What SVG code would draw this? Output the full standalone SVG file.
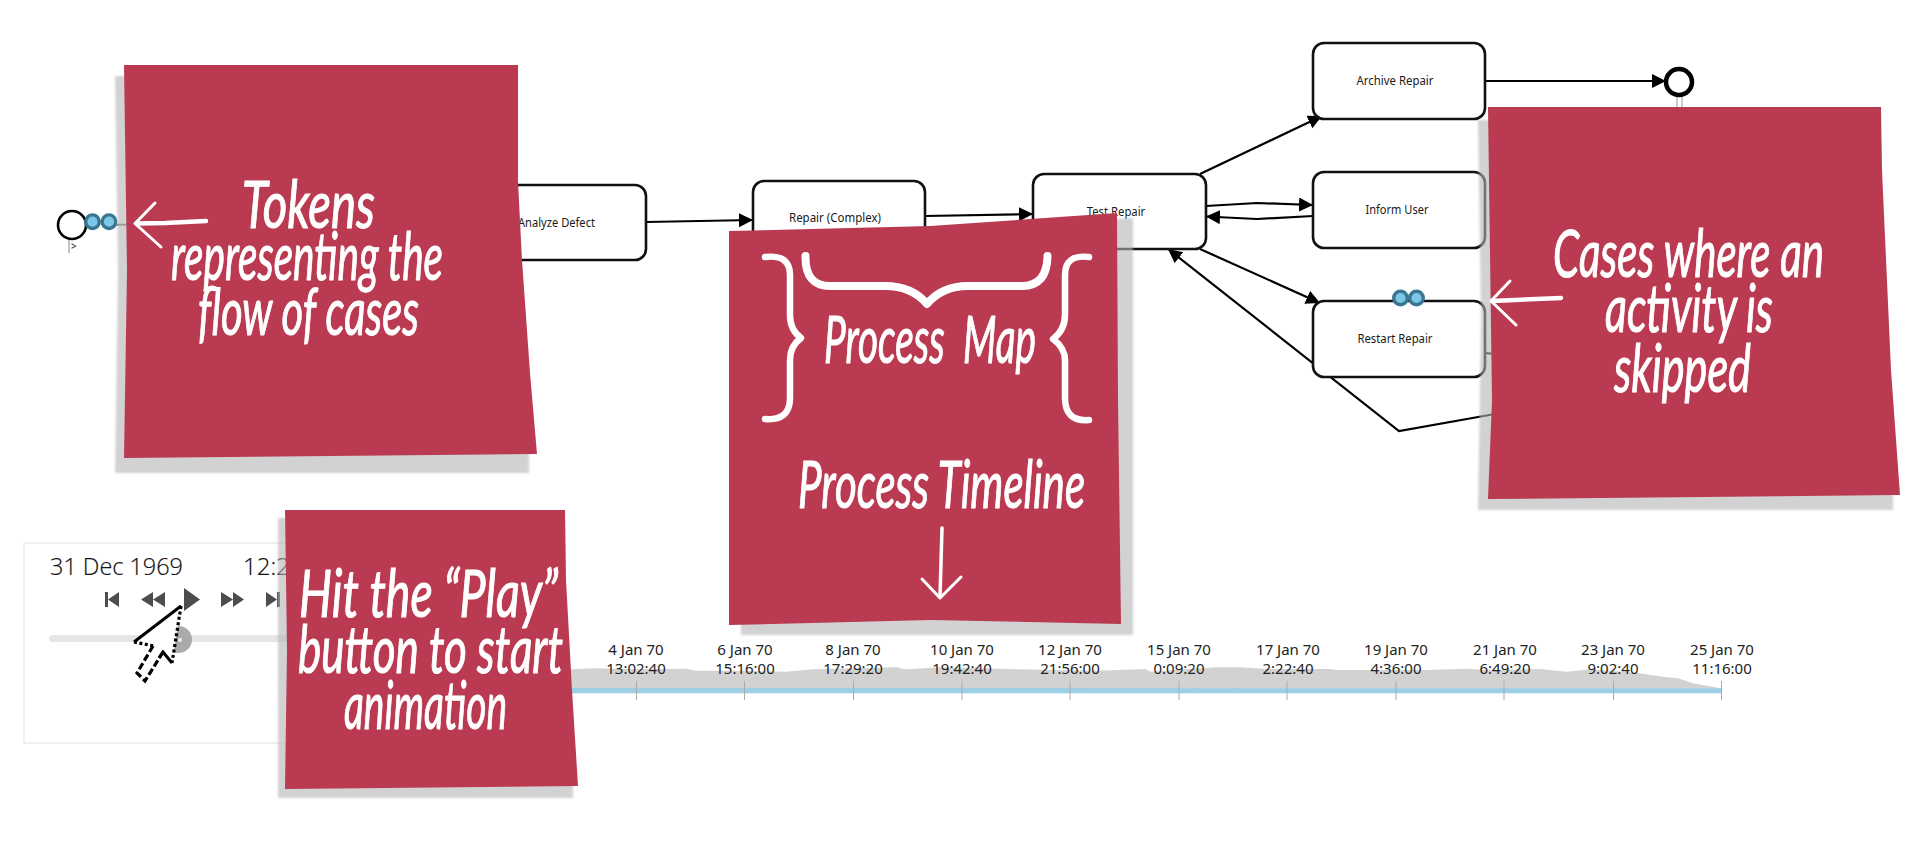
<svg xmlns="http://www.w3.org/2000/svg" width="1920" height="859" viewBox="0 0 1920 859">
<style>
.task{fill:#fff;stroke:#111;stroke-width:2.6}
.lbl{font-family:"Noto Sans",sans-serif;font-size:12px;fill:#1a1a1a;text-anchor:middle}
.cn{fill:none;stroke:#000;stroke-width:2.2}
.tk{fill:#7cc6e8;stroke:#3a7690;stroke-width:3.4}
.note{fill:#ba3a51}
.shadow{fill:#b4b4b4;fill-opacity:.6;filter:url(#soft)}
.hand{font-family:Lato,"Liberation Sans",sans-serif;font-style:italic;fill:#fff;stroke:#fff;stroke-width:1.1;font-size:66px}
.ink{fill:none;stroke:#fff;stroke-linecap:round;stroke-linejoin:round}
.tl{font-family:"Noto Sans",sans-serif;font-size:15px;fill:#222;text-anchor:middle}
.tick{stroke:#aaa;stroke-width:1}
.btn{fill:#4d4d4d}
</style>
<defs>
<marker id="ah" markerUnits="userSpaceOnUse" markerWidth="16" markerHeight="16" refX="14" refY="7" orient="auto"><path d="M0 0L14 7L0 14Z" fill="#000"/></marker>
<filter id="soft" x="-5%" y="-5%" width="110%" height="110%"><feGaussianBlur stdDeviation="1"/></filter>
</defs>
<rect width="1920" height="859" fill="#fff"/>

<g id="timeline-panel">
<rect x="24" y="543" width="420" height="200" fill="#fff" stroke="#ececec" stroke-width="1.500"/>
<text x="50" y="575" font-family="Open Sans,sans-serif" font-size="24" font-weight="300" fill="#111" stroke="#111" stroke-width=".2" textLength="133" lengthAdjust="spacingAndGlyphs">31 Dec 1969</text>
<text x="243" y="575" font-family="Open Sans,sans-serif" font-size="24" font-weight="300" fill="#111" stroke="#111" stroke-width=".2">12:2</text>
<path class="btn" d="M105 592h3v15h-3zM119 592v15l-11-7.500z"/>
<path class="btn" d="M153 592v15l-12-7.500zM165 592v15l-12-7.500z"/>
<path class="btn" d="M184 588l16 11.500-16 11.500z"/>
<path class="btn" d="M221 592l12 7.500-12 7.500zM233 592l11 7.500-11 7.500z"/>
<path class="btn" d="M266 592l11 7.500-11 7.500zM277 592h3v15h-3z"/>
<rect x="49" y="635" width="300" height="7" rx="3.500" fill="#e6e6e6"/>
<circle cx="178.500" cy="639.500" r="13.500" fill="#aaa"/>
<circle cx="180" cy="640" r="2" fill="#eee"/>
</g>

<g id="timeline">
<rect x="530" y="688" width="1192" height="5.300" fill="#9dcfe6"/>
<path d="M530 688V669L571.500 669.300L594 668.300L636.500 669.300L686 668.700L696 670.700L744 670.700L786 671.700L813 669.300L897 667.300L904 669.300L943 667.300L1019 669.300L1096 670.700L1145.600 669L1150 671.700L1215 667.300L1242 667.300L1265 669L1330 669L1337.500 670L1425.500 670L1468 668.700L1487 670L1540 669L1567 671.700L1590 669.300L1636 672.700L1663 676.700L1678 678.300L1693 683.300L1721 688.300Z" fill="#d2d2d2"/>
<g>
<line class="tick" x1="636.500" y1="681" x2="636.500" y2="700"/><line class="tick" x1="744.500" y1="681" x2="744.500" y2="700"/><line class="tick" x1="853.500" y1="681" x2="853.500" y2="700"/><line class="tick" x1="962" y1="681" x2="962" y2="700"/><line class="tick" x1="1070" y1="681" x2="1070" y2="700"/><line class="tick" x1="1179" y1="681" x2="1179" y2="700"/><line class="tick" x1="1287" y1="681" x2="1287" y2="700"/><line class="tick" x1="1396" y1="681" x2="1396" y2="700"/><line class="tick" x1="1504" y1="681" x2="1504" y2="700"/><line class="tick" x1="1613.500" y1="681" x2="1613.500" y2="700"/><line class="tick" x1="1721.500" y1="681" x2="1721.500" y2="700"/>
</g>
<text class="tl" x="636" y="655">4 Jan 70</text><text class="tl" x="636" y="674">13:02:40</text>
<text class="tl" x="745" y="655">6 Jan 70</text><text class="tl" x="745" y="674">15:16:00</text>
<text class="tl" x="853" y="655">8 Jan 70</text><text class="tl" x="853" y="674">17:29:20</text>
<text class="tl" x="962" y="655">10 Jan 70</text><text class="tl" x="962" y="674">19:42:40</text>
<text class="tl" x="1070" y="655">12 Jan 70</text><text class="tl" x="1070" y="674">21:56:00</text>
<text class="tl" x="1179" y="655">15 Jan 70</text><text class="tl" x="1179" y="674">0:09:20</text>
<text class="tl" x="1288" y="655">17 Jan 70</text><text class="tl" x="1288" y="674">2:22:40</text>
<text class="tl" x="1396" y="655">19 Jan 70</text><text class="tl" x="1396" y="674">4:36:00</text>
<text class="tl" x="1505" y="655">21 Jan 70</text><text class="tl" x="1505" y="674">6:49:20</text>
<text class="tl" x="1613" y="655">23 Jan 70</text><text class="tl" x="1613" y="674">9:02:40</text>
<text class="tl" x="1722" y="655">25 Jan 70</text><text class="tl" x="1722" y="674">11:16:00</text>
</g>

<g id="connectors">
<line x1="116" y1="224.700" x2="130" y2="224.700" stroke="#777" stroke-width="2"/>
<path class="cn" d="M646 222L753 220" marker-end="url(#ah)"/>
<path class="cn" d="M925 216L1033 214" marker-end="url(#ah)"/>
<path class="cn" d="M1200 174L1322 116" marker-end="url(#ah)"/>
<path class="cn" d="M1206 206L1257 203L1313 205" marker-end="url(#ah)"/>
<path class="cn" d="M1313 216L1257 219L1206 216.500" marker-end="url(#ah)"/>
<path class="cn" d="M1200 249L1320 303" marker-end="url(#ah)"/>
<path class="cn" d="M1495 414L1399 431L1168 249" marker-end="url(#ah)"/>
<path class="cn" d="M1485 353L1495 354"/>
<path class="cn" d="M1485 81L1666 81" marker-end="url(#ah)"/>
<path d="M1677 96V112M1682 96V112" fill="none" stroke="#aaa" stroke-width="1.200"/>
</g>

<g id="start-event">
<circle cx="72" cy="225" r="14" fill="#fff" stroke="#000" stroke-width="2.600"/>
<line x1="69" y1="240" x2="69" y2="253" stroke="#888" stroke-width="1"/>
<text x="71" y="250" font-family="Noto Sans,sans-serif" font-size="10" fill="#222">&gt;</text>
<circle class="tk" cx="92.500" cy="221.700" r="6.800"/><circle class="tk" cx="109" cy="221.700" r="6.800"/>
</g>
<g id="end-event"><circle cx="1679" cy="82" r="13" fill="#fff" stroke="#000" stroke-width="4.500"/></g>
<g id="node-analyze-defect"><rect class="task" x="474" y="185" width="172" height="75" rx="11"/><text class="lbl" x="556.500" y="227" textLength="77" lengthAdjust="spacingAndGlyphs">Analyze Defect</text></g>
<g id="node-repair-complex"><rect class="task" x="753" y="181" width="172" height="76" rx="11"/><text class="lbl" x="835" y="222" textLength="92" lengthAdjust="spacingAndGlyphs">Repair (Complex)</text></g>
<g id="node-test-repair"><rect class="task" x="1033" y="174" width="173" height="75" rx="11"/><text class="lbl" x="1116" y="216" textLength="58.500" lengthAdjust="spacingAndGlyphs">Test Repair</text></g>
<g id="node-archive-repair"><rect class="task" x="1313" y="43" width="172" height="76" rx="11"/><text class="lbl" x="1395" y="85" textLength="77" lengthAdjust="spacingAndGlyphs">Archive Repair</text></g>
<g id="node-inform-user"><rect class="task" x="1313" y="172" width="172" height="76" rx="11"/><text class="lbl" x="1397" y="214" textLength="63" lengthAdjust="spacingAndGlyphs">Inform User</text></g>
<g id="node-restart-repair"><rect class="task" x="1313" y="301" width="172" height="76" rx="11"/><text class="lbl" x="1395" y="343" textLength="75" lengthAdjust="spacingAndGlyphs">Restart Repair</text>
<circle class="tk" cx="1400.500" cy="298" r="6.800"/><circle class="tk" cx="1416.500" cy="298" r="6.800"/></g>

<g id="note-tokens">
<path class="shadow" d="M115 76L505 76L529 458L529 473L115 473L118 270Z"/>
<path class="note" d="M124 65L518 65L518 182L522 260L530 373L537 454L124 458L127 270Z"/>
<path d="M206 221L165 223L137 223.500" fill="none" stroke="#fff" stroke-width="4.500" stroke-linecap="round"/>
<path class="ink" d="M155 203L135 223.500L161 247" stroke-width="3"/>
<text class="hand" x="242" y="228" textLength="133" lengthAdjust="spacingAndGlyphs">Tokens</text>
<text class="hand" x="171" y="280" textLength="272" lengthAdjust="spacingAndGlyphs">representing the</text>
<text class="hand" x="198" y="335" textLength="221" lengthAdjust="spacingAndGlyphs">flow of cases</text>
</g>

<g id="note-process">
<path class="shadow" d="M741 240L1133 218L1133 635L741 635Z"/>
<path class="note" d="M729 231L930 226L1117 213L1118 400L1121 624L930 620L729 625Z"/>
<path class="ink" d="M765 257Q790 254 790 275V315Q790 330 801 338Q790 346 790 360V398Q790 421 765 419" stroke-width="6.500"/>
<path class="ink" d="M1089 257Q1065 254 1065 275V315Q1065 330 1053 339Q1065 348 1065 360V398Q1065 422 1089 420" stroke-width="6.500"/>
<path class="ink" d="M805.500 256Q805 286 830 286H885Q912 286 927 304Q942 286 968 286H1022Q1047 286 1047.500 256" stroke-width="8"/>
<text class="hand" x="824" y="363" textLength="212" lengthAdjust="spacingAndGlyphs" xml:space="preserve">Process  Map</text>
<text class="hand" x="798" y="508" textLength="287" lengthAdjust="spacingAndGlyphs">Process Timeline</text>
<path class="ink" d="M942 528L940 597" stroke-width="3.500"/>
<path class="ink" d="M922 579L940 598L961 577" stroke-width="3"/>
</g>

<g id="note-skipped">
<path class="shadow" d="M1478 120H1865L1893 495V510H1478L1481 320Z"/>
<path class="note" d="M1488 107H1881L1882 170L1891 370L1900 495L1488 499L1492 400Z"/>
<path d="M1561 298L1515 300L1492 301" fill="none" stroke="#fff" stroke-width="4.500" stroke-linecap="round"/>
<path class="ink" d="M1510 281L1491 301L1516 325" stroke-width="3"/>
<text class="hand" x="1553" y="277" textLength="271" lengthAdjust="spacingAndGlyphs">Cases where an</text>
<text class="hand" x="1605" y="332" textLength="168" lengthAdjust="spacingAndGlyphs">activity is</text>
<text class="hand" x="1614" y="392" textLength="137" lengthAdjust="spacingAndGlyphs">skipped</text>
</g>

<g id="note-play">
<path class="shadow" d="M278 518H555L573 786V798H278Z"/>
<path class="note" d="M285 510H565L566 580L572 690L578 786L285 789L287 650Z"/>
<text class="hand" x="299" y="617" textLength="259" lengthAdjust="spacingAndGlyphs">Hit the “Play”</text>
<text class="hand" x="298" y="673" textLength="265" lengthAdjust="spacingAndGlyphs">button to start</text>
<text class="hand" x="344" y="729" textLength="163" lengthAdjust="spacingAndGlyphs">animation</text>
</g>

<g id="cursor">
<path d="M181 606L132 642L155 645L137 673L145 681L163 652L172 663Z" fill="#fff"/>
<path d="M181 606L134 642" fill="none" stroke="#000" stroke-width="3"/>
<path d="M181 606L172 663" fill="none" stroke="#000" stroke-width="3.200" stroke-dasharray="3 2.500"/>
<path d="M134 642L154 646" fill="none" stroke="#000" stroke-width="3.200" stroke-dasharray="3 2.500"/>
<path d="M153 646L137 673L145 681L163 652" fill="none" stroke="#000" stroke-width="3.200" stroke-dasharray="7 3"/>
<path d="M159 658L163 652L172 663" fill="none" stroke="#000" stroke-width="3"/>
</g>
</svg>
